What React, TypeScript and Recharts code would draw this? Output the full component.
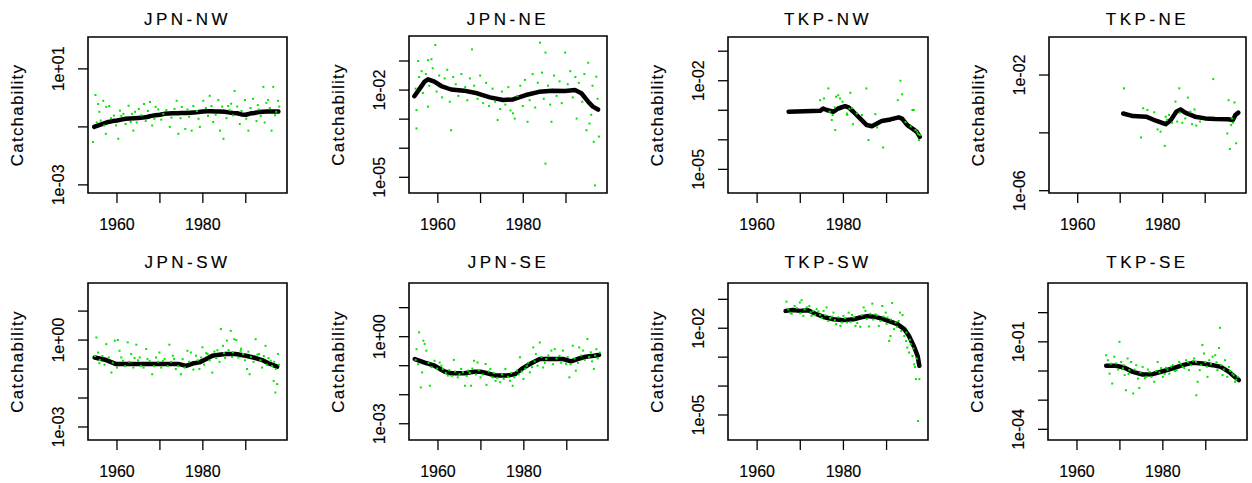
import React from 'react';
import { ComposedChart, Scatter, Line, XAxis, YAxis, ReferenceArea } from 'recharts';

type Pt = [number, number];

// values are log10(catchability)
const yearDomain: [number, number] = [1953.25, 1999.6];
const yearTicks = [1960, 1970, 1980, 1990];
const yearTickLabels = [1960, 1980];

// ---------- JPN-NW ----------
const jpnNwTicks = [-3, -1, 1];
const jpnNwTickLabels = [-3, 1];
const jpnNwCurve: Pt[] = [
  [1954.7, -1.0], [1955, -0.98], [1956, -0.93], [1957, -0.88], [1958, -0.83], [1959, -0.8], [1960, -0.78],
  [1961, -0.75], [1962, -0.72], [1963, -0.71], [1964, -0.7], [1965, -0.69], [1966, -0.68], [1967, -0.66],
  [1968, -0.62], [1969, -0.6], [1970, -0.58], [1971, -0.55], [1972, -0.54], [1973, -0.53], [1974, -0.53],
  [1975, -0.52], [1976, -0.52], [1977, -0.51], [1978, -0.5], [1979, -0.49], [1980, -0.47], [1981, -0.46],
  [1982, -0.46], [1983, -0.47], [1984, -0.47], [1985, -0.48], [1986, -0.5], [1987, -0.52], [1988, -0.53],
  [1989, -0.57], [1990, -0.58], [1991, -0.54], [1992, -0.52], [1993, -0.49], [1994, -0.48], [1995, -0.47],
  [1996, -0.47], [1997, -0.47], [1997.6, -0.47],
];
const jpnNwPoints: Pt[] = [
  [1954.4, -1.52], [1955.0, 0.1], [1955.6, -0.21], [1955.9, -0.48], [1957.4, -1.24], [1957.5, -0.31], [1956.8, -0.1],
  [1958.2, -0.28], [1959.3, -0.61], [1960.3, -1.41], [1960.7, -0.44], [1961.5, -0.55], [1962.7, -0.27], [1963.2, -0.83],
  [1963.8, -1.13], [1964.2, -0.48], [1965.1, -0.38], [1966.3, -0.21], [1966.7, -0.8], [1967.7, -0.14], [1968.2, -0.95],
  [1969.0, -0.31], [1970.8, -0.55], [1972.3, -1.0], [1973.9, -0.1], [1974.3, -1.24], [1975.1, -0.31], [1975.9, -1.07],
  [1977.4, -1.13], [1977.8, -0.28], [1979.3, -1.0], [1980.1, -0.1], [1981.6, 0.07], [1982.4, -0.83], [1983.6, -0.07],
  [1984.0, -1.13], [1984.8, -1.41], [1985.9, -0.28], [1987.4, 0.24], [1988.6, -0.9], [1989.8, -0.07], [1990.6, -1.13],
  [1991.7, -0.03], [1992.5, -0.8], [1994.1, 0.38], [1994.8, -0.17], [1995.2, -0.07], [1996.0, -1.13], [1996.4, 0.38],
  [1997.5, -0.1], [1997.1, -0.48],
  [1955.3, -0.85], [1956.2, -0.78], [1957.0, -0.95], [1958.6, -0.7], [1959.8, -0.95], [1961.0, -0.62], [1962.0, -0.9],
  [1963.5, -0.55], [1964.6, -0.85], [1965.7, -0.6], [1967.2, -0.45], [1968.7, -0.72], [1969.6, -0.4], [1970.3, -0.75],
  [1971.5, -0.42], [1972.7, -0.68], [1973.4, -0.38], [1974.8, -0.7], [1976.4, -0.4], [1976.8, -0.65], [1978.6, -0.45],
  [1979.0, -0.72], [1980.7, -0.35], [1981.2, -0.62], [1982.0, -0.28], [1983.0, -0.58], [1984.5, -0.3], [1985.5, -0.7],
  [1986.6, -0.2], [1987.0, -0.6], [1988.0, -0.3], [1989.0, -0.45], [1990.1, -0.72], [1991.1, -0.35], [1992.8, -0.25],
  [1993.5, -0.62], [1994.4, -0.85], [1995.6, -0.35], [1996.8, -0.6], [1997.8, -0.3], [1993.0, -0.4], [1986.2, -0.42],
];

// ---------- JPN-NE ----------
const jpnNeTicks = [-5, -4, -3, -2, -1];
const jpnNeTickLabels = [-5, -2];
const jpnNeCurve: Pt[] = [
  [1954.5, -2.21], [1955.8, -1.94], [1956.9, -1.71], [1957.7, -1.63], [1959.2, -1.71], [1960.8, -1.86],
  [1963.1, -1.98], [1966.1, -2.02], [1969.2, -2.11], [1972.2, -2.25], [1975.3, -2.34], [1977.6, -2.32],
  [1980.6, -2.17], [1983.7, -2.06], [1986.8, -2.02], [1989.8, -2.03], [1992.1, -2.0], [1993.6, -2.11],
  [1995.2, -2.4], [1996.3, -2.57], [1997.5, -2.67],
];
const jpnNePoints: Pt[] = [
  [1985.2, -4.53], [1996.8, -5.28], [1996.5, -3.78], [1959.4, -0.45], [1968.0, -0.6], [1983.9, -0.37], [1989.8, -0.71],
  [1985.2, -0.71], [1955.0, -3.32], [1963.1, -3.38], [1974.0, -3.03], [1981.0, -3.09], [1986.6, -3.09], [1992.5, -2.98],
  [1994.8, -3.38], [1995.5, -3.15], [1955.4, -1.0], [1957.7, -0.97], [1958.5, -0.94], [1995.2, -1.06], [1997.1, -1.54],
  [1957.7, -2.57], [1955.0, -2.69], [1978.0, -2.98], [1977.6, -2.8],
  [1954.8, -1.95], [1955.6, -1.55], [1956.2, -1.35], [1956.5, -2.1], [1957.2, -1.45], [1958.0, -1.85], [1958.8, -1.25],
  [1959.7, -2.05], [1960.3, -1.5], [1961.0, -2.25], [1961.6, -1.6], [1962.2, -1.3], [1962.8, -2.4], [1963.6, -1.55],
  [1964.2, -1.8], [1964.8, -2.2], [1965.5, -1.45], [1966.4, -1.9], [1966.9, -2.35], [1967.5, -1.6], [1968.5, -1.85],
  [1969.3, -2.3], [1969.9, -1.5], [1970.6, -2.45], [1971.3, -1.75], [1972.0, -2.55], [1972.8, -1.95], [1973.4, -2.4],
  [1974.6, -2.65], [1975.0, -2.05], [1975.8, -2.5], [1976.5, -1.9], [1977.0, -2.7], [1978.6, -2.2], [1979.3, -1.85],
  [1979.9, -2.55], [1980.4, -1.65], [1981.5, -2.35], [1982.2, -1.45], [1982.8, -2.6], [1983.4, -1.75], [1984.4, -1.4],
  [1984.8, -2.3], [1985.8, -1.85], [1986.3, -2.5], [1987.2, -1.5], [1987.8, -2.2], [1988.5, -1.7], [1989.0, -2.45],
  [1990.4, -1.8], [1991.0, -1.35], [1991.6, -2.25], [1992.2, -1.55], [1993.0, -1.75], [1993.8, -2.4], [1994.3, -1.45],
  [1995.9, -2.85], [1996.2, -1.85], [1997.4, -2.3], [1997.7, -3.6],
];

// ---------- TKP-NW ----------
const tkpNwTicks = [-5, -4, -3, -2, -1];
const tkpNwTickLabels = [-5, -2];
const tkpNwCurve: Pt[] = [
  [1967.3, -3.05], [1974.6, -3.02], [1975.3, -2.94], [1976.1, -2.99], [1977.7, -3.05], [1978.8, -2.94],
  [1980.4, -2.86], [1981.2, -2.9], [1982.3, -3.05], [1983.9, -3.28], [1985.4, -3.5], [1986.6, -3.54],
  [1987.8, -3.45], [1988.9, -3.36], [1990.9, -3.31], [1992.8, -3.24], [1993.6, -3.28], [1994.8, -3.5],
  [1996.0, -3.62], [1997.0, -3.73], [1997.7, -3.9],
];
const tkpNwPoints: Pt[] = [
  [1974.6, -2.66], [1975.5, -2.6], [1976.5, -2.26], [1977.3, -3.33], [1977.5, -3.16], [1978.1, -3.67], [1978.3, -2.54],
  [1978.8, -2.49], [1979.2, -2.6], [1979.8, -2.71], [1980.8, -3.11], [1980.9, -3.16], [1981.6, -2.41], [1982.2, -3.47],
  [1983.1, -3.11], [1984.3, -3.16], [1985.3, -2.26], [1985.8, -4.01], [1987.4, -3.13], [1987.8, -3.58], [1989.2, -4.26],
  [1992.6, -2.66], [1993.2, -2.0], [1993.6, -2.46], [1996.0, -2.99], [1996.3, -2.99], [1996.7, -3.67], [1997.1, -3.73],
  [1997.5, -4.01], [1997.7, -3.84], [1976.8, -3.05], [1978.0, -2.9], [1981.4, -2.95], [1982.0, -2.92], [1995.6, -3.55],
  [1997.3, -3.8], [1994.4, -3.4],
];

// ---------- TKP-NE ----------
const tkpNeTicks = [-6, -4, -2];
const tkpNeTickLabels = [-6, -2];
const tkpNeCurve: Pt[] = [
  [1970.7, -3.33], [1973.0, -3.42], [1976.1, -3.44], [1978.4, -3.58], [1980.7, -3.7], [1981.9, -3.56],
  [1983.2, -3.27], [1984.2, -3.19], [1985.3, -3.3], [1987.6, -3.44], [1990.0, -3.5], [1992.3, -3.52],
  [1995.4, -3.53], [1996.5, -3.56], [1997.1, -3.38], [1997.8, -3.3],
];
const tkpNePoints: Pt[] = [
  [1970.9, -2.46], [1974.9, -4.16], [1975.4, -3.15], [1976.4, -3.21], [1978.0, -3.29], [1978.8, -3.88], [1979.5, -3.96],
  [1980.5, -4.45], [1980.7, -3.44], [1981.5, -3.38], [1982.2, -3.65], [1983.0, -2.92], [1983.4, -3.61], [1983.9, -2.46],
  [1984.6, -3.65], [1985.3, -3.5], [1985.9, -2.78], [1986.5, -3.27], [1986.9, -3.7], [1987.5, -3.19], [1987.9, -3.75],
  [1988.8, -3.61], [1991.9, -2.14], [1995.2, -4.02], [1995.5, -2.87], [1995.8, -4.56], [1996.1, -3.73], [1996.5, -3.65],
  [1996.9, -2.95], [1997.3, -4.36], [1981.0, -3.55], [1984.0, -3.3], [1996.3, -3.5],
];

// ---------- JPN-SW ----------
const jpnSwTicks = [-3, -2, -1, 0, 1];
const jpnSwTickLabels = [-3, 0];
const jpnSwCurve: Pt[] = [
  [1954.8, -0.6], [1957.5, -0.69], [1959.8, -0.83], [1963.7, -0.83], [1967.6, -0.83], [1971.4, -0.83],
  [1974.5, -0.83], [1976.1, -0.89], [1977.6, -0.81], [1979.2, -0.77], [1980.7, -0.66], [1982.2, -0.54],
  [1983.8, -0.51], [1985.3, -0.48], [1987.6, -0.48], [1990.0, -0.54], [1992.3, -0.62], [1993.8, -0.69],
  [1995.4, -0.81], [1997.3, -0.92],
];
const jpnSwPoints: Pt[] = [
  [1955.2, 0.09], [1955.6, -0.43], [1956.0, -0.69], [1957.5, -0.14], [1958.7, -1.12], [1959.5, -0.02], [1960.2, 0.0],
  [1960.6, -0.37], [1961.4, -0.72], [1962.5, -0.08], [1963.3, -0.48], [1964.1, -0.62], [1964.5, -0.16], [1965.6, -0.89],
  [1966.8, -0.31], [1967.6, -0.72], [1968.2, -1.18], [1969.1, -0.6], [1969.9, -0.43], [1970.7, -0.72], [1972.2, -0.16],
  [1973.0, -0.54], [1973.7, -1.0], [1974.9, -1.18], [1975.3, -0.66], [1976.4, -0.37], [1977.2, -0.43], [1978.4, -0.54],
  [1979.2, -1.0], [1979.9, -0.25], [1981.1, -0.48], [1982.2, -1.12], [1983.4, -0.35], [1984.2, 0.38], [1984.7, -0.2],
  [1985.6, -0.02], [1986.5, 0.32], [1987.3, 0.03], [1987.8, 0.0], [1988.8, -0.37], [1990.3, -1.0], [1990.9, -1.18],
  [1992.3, 0.03], [1993.1, -0.48], [1993.8, -0.95], [1994.6, -0.2], [1995.8, -0.72], [1996.5, -1.41], [1996.9, -1.81],
  [1997.3, -1.52], [1997.5, -0.48],
  [1954.9, -0.55], [1955.9, -0.8], [1956.6, -0.55], [1957.1, -0.85], [1958.1, -0.6], [1959.0, -0.78], [1960.0, -0.95],
  [1961.0, -0.6], [1961.9, -0.9], [1962.9, -0.75], [1963.8, -0.95], [1964.9, -0.7], [1965.3, -0.6], [1966.2, -0.95],
  [1967.1, -0.65], [1968.6, -0.9], [1969.5, -0.75], [1970.3, -0.95], [1971.1, -0.65], [1971.8, -0.9], [1972.6, -0.75],
  [1973.3, -0.65], [1974.2, -0.9], [1975.8, -0.95], [1976.8, -0.75], [1977.8, -1.02], [1978.8, -0.7], [1979.6, -0.6],
  [1980.3, -0.85], [1980.8, -0.45], [1981.6, -0.7], [1982.7, -0.4], [1983.1, -0.62], [1983.9, -0.75], [1984.9, -0.45],
  [1985.2, -0.62], [1986.0, -0.35], [1986.8, -0.58], [1987.0, -0.42], [1988.3, -0.6], [1988.9, -0.3], [1989.4, -0.48],
  [1989.8, -0.7], [1990.6, -0.4], [1991.2, -0.58], [1991.8, -0.75], [1992.7, -0.5], [1993.4, -0.7], [1994.2, -0.55],
  [1994.9, -0.85], [1995.3, -0.62], [1996.1, -0.9], [1996.6, -0.75], [1997.0, -1.0], [1997.7, -0.85],
];

// ---------- JPN-SE ----------
const jpnSeTicks = [-3, -2, -1, 0, 1];
const jpnSeTickLabels = [-3, 0];
const jpnSeCurve: Pt[] = [
  [1954.6, -0.77], [1956.9, -0.89], [1959.2, -1.0], [1961.5, -1.2], [1963.1, -1.26], [1966.1, -1.26],
  [1968.4, -1.21], [1969.9, -1.21], [1971.5, -1.26], [1973.4, -1.34], [1976.1, -1.34], [1978.0, -1.29],
  [1979.5, -1.11], [1981.4, -0.94], [1983.7, -0.77], [1986.0, -0.77], [1989.1, -0.77], [1991.0, -0.85],
  [1992.5, -0.77], [1994.4, -0.69], [1996.3, -0.66], [1997.5, -0.63],
];
const jpnSePoints: Pt[] = [
  [1955.6, 0.15], [1956.0, -1.75], [1955.0, -0.43], [1956.6, -0.14], [1956.9, -0.25], [1957.3, -0.48], [1958.1, -1.69],
  [1956.3, -1.23], [1959.2, -0.83], [1960.4, -0.89], [1961.1, -1.11], [1962.3, -1.34], [1963.7, -0.8], [1964.6, -1.4],
  [1965.4, -1.11], [1966.3, -1.69], [1967.0, -1.17], [1967.7, -1.69], [1968.4, -0.83], [1969.2, -0.89], [1969.9, -1.4],
  [1971.1, -0.94], [1971.3, -1.66], [1972.2, -1.11], [1973.4, -1.52], [1974.5, -1.57], [1975.7, -1.11], [1976.8, -1.52],
  [1977.4, -1.69], [1978.4, -1.17], [1979.1, -0.71], [1979.9, -1.46], [1980.7, -1.0], [1981.4, -1.23], [1982.2, -0.37],
  [1982.8, -0.6], [1983.7, -0.2], [1984.5, -1.06], [1985.2, -0.77], [1986.4, -0.48], [1987.2, -0.43], [1988.3, -0.66],
  [1989.1, -0.48], [1989.8, -0.94], [1990.6, -1.4], [1991.4, -0.31], [1992.1, -1.17], [1992.9, -0.37], [1993.8, -0.48],
  [1994.8, -0.08], [1995.6, -0.54], [1996.3, -1.11], [1996.9, -0.43],
  [1954.8, -0.8], [1955.4, -0.95], [1957.8, -0.9], [1958.5, -1.05], [1959.8, -1.1], [1960.8, -1.0], [1961.8, -1.25],
  [1962.6, -1.15], [1963.2, -1.35], [1964.0, -1.2], [1965.0, -1.3], [1965.8, -1.22], [1966.7, -1.35], [1967.4, -1.25],
  [1968.0, -1.1], [1968.8, -1.3], [1969.5, -1.15], [1970.4, -1.3], [1971.8, -1.2], [1972.7, -1.4], [1973.0, -1.25],
  [1973.8, -1.42], [1974.9, -1.3], [1975.3, -1.45], [1976.3, -1.38], [1977.0, -1.25], [1977.8, -1.4], [1978.8, -1.3],
  [1979.5, -1.2], [1980.3, -1.1], [1981.0, -0.9], [1981.9, -1.05], [1982.5, -0.85], [1983.2, -1.0], [1984.1, -0.7],
  [1984.9, -0.9], [1985.7, -0.65], [1986.8, -0.95], [1987.6, -0.75], [1988.7, -0.9], [1990.2, -0.7], [1990.9, -0.95],
  [1991.8, -0.75], [1992.6, -0.9], [1993.3, -0.65], [1994.2, -0.8], [1995.2, -0.7], [1995.9, -0.85], [1996.6, -0.65],
  [1997.2, -0.75], [1997.7, -0.55],
];

// ---------- TKP-SW ----------
const tkpSwTicks = [-5, -4, -3, -2, -1];
const tkpSwTickLabels = [-5, -2];
const tkpSwCurve: Pt[] = [
  [1966.6, -1.4], [1968.3, -1.37], [1969.9, -1.4], [1971.8, -1.38], [1973.4, -1.49], [1975.4, -1.61],
  [1977.7, -1.69], [1980.0, -1.72], [1982.4, -1.69], [1983.9, -1.63], [1985.5, -1.58], [1987.4, -1.61],
  [1989.4, -1.69], [1990.9, -1.77], [1992.5, -1.86], [1994.1, -2.03], [1995.2, -2.27], [1996.4, -2.65],
  [1997.2, -2.96], [1997.6, -3.3],
];
const tkpSwPoints: Pt[] = [
  [1966.8, -1.08], [1967.6, -1.46], [1968.7, -1.23], [1969.9, -1.11], [1970.3, -1.03], [1970.7, -1.57], [1971.5, -1.28],
  [1972.1, -1.23], [1972.6, -1.57], [1973.0, -1.4], [1973.8, -1.34], [1974.6, -1.54], [1975.4, -1.4], [1976.1, -1.28],
  [1976.9, -1.65], [1977.7, -1.46], [1978.3, -1.86], [1979.3, -1.92], [1980.0, -1.57], [1980.8, -1.8], [1981.2, -1.46],
  [1982.0, -1.54], [1982.8, -1.92], [1983.9, -1.95], [1984.7, -1.28], [1985.1, -1.4], [1985.9, -1.94], [1986.7, -1.15],
  [1987.4, -1.52], [1988.2, -1.92], [1989.0, -1.23], [1989.8, -1.46], [1990.2, -1.63], [1990.6, -2.44], [1990.9, -2.27],
  [1991.3, -1.13], [1991.7, -2.03], [1992.1, -1.8], [1993.1, -1.46], [1993.7, -1.54], [1994.1, -2.27], [1994.5, -2.44],
  [1994.8, -2.67], [1995.2, -2.84], [1995.6, -2.55], [1996.0, -2.96], [1996.4, -3.25], [1996.6, -3.34], [1996.8, -3.76],
  [1997.6, -3.76], [1997.3, -5.21],
  [1967.2, -1.35], [1968.0, -1.5], [1969.2, -1.3], [1970.0, -1.48], [1971.0, -1.35], [1972.4, -1.45], [1973.4, -1.55],
  [1974.2, -1.42], [1975.0, -1.65], [1975.8, -1.55], [1976.5, -1.75], [1977.3, -1.6], [1978.0, -1.72], [1978.8, -1.62],
  [1979.6, -1.8], [1980.4, -1.65], [1981.6, -1.78], [1982.4, -1.62], [1983.2, -1.82], [1984.2, -1.55], [1985.4, -1.68],
  [1986.2, -1.5], [1986.9, -1.7], [1987.8, -1.55], [1988.6, -1.75], [1989.3, -1.6], [1990.0, -1.85], [1991.0, -1.7],
  [1992.4, -1.95], [1992.8, -1.75], [1993.4, -2.1], [1994.6, -2.15], [1995.4, -2.4], [1996.2, -2.7], [1997.0, -3.05],
];

// ---------- TKP-SE ----------
const tkpSeTicks = [-4, -3, -2, -1, 0];
const tkpSeTickLabels = [-4, -1];
const tkpSeCurve: Pt[] = [
  [1966.8, -1.82], [1969.1, -1.82], [1971.1, -1.89], [1973.0, -2.03], [1975.3, -2.12], [1977.6, -2.11],
  [1980.0, -2.01], [1982.3, -1.91], [1984.6, -1.8], [1986.9, -1.72], [1989.2, -1.74], [1991.6, -1.8],
  [1993.5, -1.86], [1995.4, -2.03], [1997.0, -2.23], [1997.7, -2.31],
];
const tkpSePoints: Pt[] = [
  [1966.8, -1.46], [1967.2, -1.63], [1967.6, -2.09], [1968.2, -2.43], [1968.7, -1.51], [1969.1, -1.74], [1969.9, -1.0],
  [1970.3, -1.69], [1970.7, -1.91], [1971.1, -2.14], [1971.4, -2.66], [1971.8, -1.57], [1972.2, -1.97], [1972.6, -1.69],
  [1973.1, -2.77], [1973.8, -1.8], [1974.2, -2.26], [1974.5, -2.58], [1975.3, -1.86], [1976.1, -2.2], [1976.9, -2.03],
  [1978.0, -2.37], [1978.8, -1.69], [1979.2, -2.05], [1980.0, -2.2], [1980.7, -1.89], [1981.5, -2.09], [1982.3, -1.8],
  [1983.2, -1.97], [1983.8, -1.69], [1984.6, -1.86], [1985.4, -1.63], [1986.1, -1.97], [1987.3, -1.57], [1987.7, -1.69],
  [1988.1, -2.37], [1987.8, -2.83], [1988.6, -1.97], [1989.2, -1.11], [1989.6, -1.4], [1990.4, -2.2], [1990.8, -1.63],
  [1991.6, -1.51], [1992.2, -1.46], [1992.7, -1.97], [1993.1, -1.21], [1993.3, -0.52], [1993.9, -2.14], [1994.5, -1.63],
  [1995.0, -2.2], [1995.4, -1.86], [1996.2, -2.09], [1996.8, -2.37], [1997.4, -2.2],
  [1967.9, -1.75], [1969.6, -1.95], [1970.9, -1.8], [1972.0, -2.1], [1973.4, -1.95], [1974.8, -2.05], [1975.8, -2.25],
  [1976.5, -1.95], [1977.3, -2.2], [1978.4, -2.0], [1979.6, -1.9], [1980.4, -2.1], [1981.1, -1.95], [1981.9, -1.85],
  [1982.8, -2.0], [1984.2, -1.75], [1985.0, -1.9], [1985.8, -1.7], [1986.5, -1.8], [1987.0, -1.65], [1988.9, -1.8],
  [1989.9, -1.7], [1990.3, -1.85], [1991.2, -1.75], [1992.5, -1.7], [1993.6, -1.8], [1994.2, -1.95], [1995.7, -2.0],
  [1996.5, -2.15], [1997.1, -2.3],
];

const FONT = '"Liberation Sans", Arial, Helvetica, sans-serif';
const ML = 80;
const MT = 30;
const MB = 45;
const MR = 5;

const fmtExp = (v: number) => {
  const a = Math.abs(v);
  return `1e${v < 0 ? '-' : '+'}${a < 10 ? '0' : ''}${a}`;
};

type PanelProps = {
  title: string;
  box: { x: number; y: number; w: number; h: number };
  titleGap: number;
  yDomain: [number, number];
  yTicks: number[];
  yLabels: number[];
  points: Pt[];
  curve: Pt[];
};

function Panel({ title, box, titleGap, yDomain, yTicks, yLabels, points, curve }: PanelProps) {
  const width = box.w + ML + MR;
  const height = box.h + MT + MB;
  const pts = points.map(([year, q]) => ({ year, q }));
  const cur = curve.map(([year, q]) => ({ year, q }));
  const plotBottom = MT + box.h;

  const xTick = (p: any) => {
    const v = p.payload?.value;
    if (!yearTickLabels.includes(v)) return <g />;
    return (
      <text x={p.x} y={plotBottom + 37} textAnchor="middle" fontSize={16} fontFamily={FONT}
        fill="#000" stroke="#000" strokeWidth={0.15}>
        {v}
      </text>
    );
  };
  const yTick = (p: any) => {
    const v = p.payload?.value;
    if (!yLabels.includes(v)) return <g />;
    const x = ML - 24;
    return (
      <text
        x={x}
        y={p.y}
        transform={`rotate(-90 ${x} ${p.y})`}
        textAnchor="middle"
        fontSize={16}
        fontFamily={FONT}
        fill="#000"
        stroke="#000"
        strokeWidth={0.15}
      >
        {fmtExp(v)}
      </text>
    );
  };
  const yLabel = () => {
    const x = ML - 65;
    const y = MT + box.h / 2;
    return (
      <text
        x={x}
        y={y}
        transform={`rotate(-90 ${x} ${y})`}
        textAnchor="middle"
        fontSize={17}
        letterSpacing={1.2}
        fontFamily={FONT}
        fill="#000"
        stroke="#000"
        strokeWidth={0.15}
      >
        Catchability
      </text>
    );
  };

  return (
    <div style={{ position: 'absolute', left: box.x - ML, top: box.y - MT, width, height }}>
      <ComposedChart width={width} height={height} margin={{ top: MT, right: MR, bottom: 0, left: 0 }}>
        <XAxis
          xAxisId="b"
          type="number"
          dataKey="year"
          domain={yearDomain}
          allowDataOverflow
          ticks={yearTicks}
          interval={0}
          tickSize={10}
          height={MB}
          axisLine={false}
          tickLine={{ stroke: '#000', strokeWidth: 1.3 }}
          tick={xTick}
        />
        <YAxis
          yAxisId="l"
          type="number"
          dataKey="q"
          domain={yDomain}
          allowDataOverflow
          ticks={yTicks}
          interval={0}
          tickSize={10}
          width={ML}
          axisLine={false}
          tickLine={{ stroke: '#000', strokeWidth: 1.3 }}
          tick={yTick}
          label={{ content: yLabel }}
        />
        <Line
          xAxisId="b"
          yAxisId="l"
          data={cur}
          dataKey="q"
          type="linear"
          stroke="#000"
          strokeWidth={4.5}
          strokeLinejoin="round"
          strokeLinecap="round"
          dot={false}
          activeDot={false}
          isAnimationActive={false}
        />
        <Scatter
          xAxisId="b"
          yAxisId="l"
          data={pts}
          dataKey="q"
          isAnimationActive={false}
          shape={(p: any) => <rect x={p.cx - 1} y={p.cy - 1} width={2} height={2} fill="#00e400" />}
        />
        <ReferenceArea
          xAxisId="b"
          yAxisId="l"
          x1={yearDomain[0]}
          x2={yearDomain[1]}
          y1={yDomain[0]}
          y2={yDomain[1]}
          fill="none"
          fillOpacity={0}
          stroke="#000"
          strokeWidth={1.6}
          ifOverflow="visible"
        />
      </ComposedChart>
      <svg
        width={width}
        height={MT}
        style={{ position: 'absolute', left: 0, top: 0, pointerEvents: 'none' }}
      >
        <text
          x={ML + box.w / 2}
          y={MT - titleGap}
          textAnchor="middle"
          fontSize={17}
          letterSpacing={3.5}
          fontFamily={FONT}
          fill="#000"
          stroke="#000"
          strokeWidth={0.15}
        >
          {title}
        </text>
      </svg>
    </div>
  );
}

export default function App() {
  return (
    <div style={{ position: 'absolute', left: 0, top: 0, width: 1252, height: 483, background: '#fff' }}>
      <Panel title="JPN-NW" box={{ x: 88, y: 37, w: 199, h: 156 }} titleGap={12} yDomain={[-3.28, 2.1]}
        yTicks={jpnNwTicks} yLabels={jpnNwTickLabels} points={jpnNwPoints} curve={jpnNwCurve} />
      <Panel title="JPN-NE" box={{ x: 409, y: 36, w: 198, h: 157 }} titleGap={11} yDomain={[-5.54, -0.14]}
        yTicks={jpnNeTicks} yLabels={jpnNeTickLabels} points={jpnNePoints} curve={jpnNeCurve} />
      <Panel title="TKP-NW" box={{ x: 728, y: 37, w: 200, h: 156 }} titleGap={12} yDomain={[-5.8, -0.52]}
        yTicks={tkpNwTicks} yLabels={tkpNwTickLabels} points={tkpNwPoints} curve={tkpNwCurve} />
      <Panel title="TKP-NE" box={{ x: 1049, y: 37, w: 197, h: 156 }} titleGap={12} yDomain={[-6.08, -0.685]}
        yTicks={tkpNeTicks} yLabels={tkpNeTickLabels} points={tkpNePoints} curve={tkpNeCurve} />
      <Panel title="JPN-SW" box={{ x: 88, y: 283, w: 199, h: 157 }} titleGap={15} yDomain={[-3.45, 1.97]}
        yTicks={jpnSwTicks} yLabels={jpnSwTickLabels} points={jpnSwPoints} curve={jpnSwCurve} />
      <Panel title="JPN-SE" box={{ x: 409, y: 283, w: 199, h: 157 }} titleGap={15} yDomain={[-3.56, 1.85]}
        yTicks={jpnSeTicks} yLabels={jpnSeTickLabels} points={jpnSePoints} curve={jpnSeCurve} />
      <Panel title="TKP-SW" box={{ x: 728, y: 283, w: 200, h: 157 }} titleGap={15} yDomain={[-5.865, -0.436]}
        yTicks={tkpSwTicks} yLabels={tkpSwTickLabels} points={tkpSwPoints} curve={tkpSwCurve} />
      <Panel title="TKP-SE" box={{ x: 1048, y: 283, w: 199, h: 157 }} titleGap={15} yDomain={[-4.366, 1.017]}
        yTicks={tkpSeTicks} yLabels={tkpSeTickLabels} points={tkpSePoints} curve={tkpSeCurve} />
    </div>
  );
}
